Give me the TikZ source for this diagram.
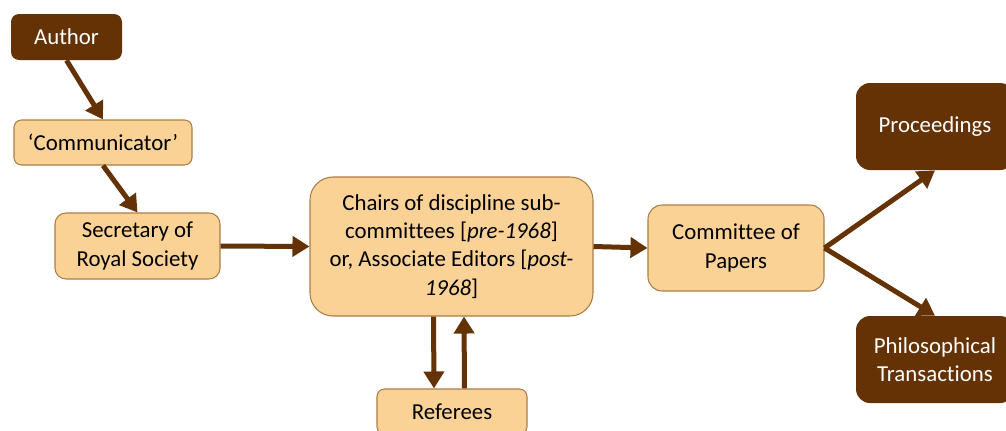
\documentclass[tikz,border=0pt]{standalone}
\usepackage{fontspec}
\setmainfont{Carlito}[Ligatures=NoCommon]
\usetikzlibrary{arrows.meta}
\definecolor{darkbrown}{RGB}{100,50,4}
\definecolor{peach}{RGB}{251,210,150}
\definecolor{peachline}{RGB}{170,125,70}

\begin{document}
\begin{tikzpicture}[>={Triangle[length=0.34cm,width=0.4cm]},
  lightbox/.style={draw=peachline, line width=0.6pt, fill=peach, text=black, align=center, inner sep=0pt},
  darkbox/.style={fill=darkbrown, text=white, align=center, inner sep=0pt, rounded corners=0.28cm},
  flow/.style={->, draw=darkbrown, line width=0.1cm}]
\fontsize{13}{16}\selectfont
\useasboundingbox (0,0) rectangle (20.12,-8.6);

% Draw the boxes
\node[darkbox, minimum width=2.22cm, minimum height=0.92cm, rounded corners=0.16cm] (author) at (1.33,-0.74) {Author};
\node[lightbox, minimum width=3.56cm, minimum height=0.90cm, rounded corners=0.15cm] (comm) at (2.06,-2.85) {`Communicator'};
\node[lightbox, minimum width=3.30cm, minimum height=1.32cm, rounded corners=0.22cm] (sec) at (2.75,-4.92) {Secretary of\\ Royal Society};
\node[lightbox, minimum width=5.66cm, minimum height=2.78cm, rounded corners=0.46cm] (chairs) at (9.03,-4.93)
  {Chairs of discipline sub-\\ committees [\textit{pre-1968}]\\ or, Associate Editors [\textit{post-}\\ \textit{1968}]};
\node[lightbox, minimum width=3.00cm, minimum height=0.90cm, rounded corners=0.15cm] (ref) at (9.04,-8.23) {Referees};
\node[lightbox, minimum width=3.52cm, minimum height=1.72cm, rounded corners=0.28cm] (papers) at (14.72,-4.96) {Committee of\\ Papers};
\node[darkbox, minimum width=3.16cm, minimum height=1.74cm] (procs) at (18.70,-2.53) {Proceedings};
\node[darkbox, minimum width=3.16cm, minimum height=1.74cm] (trans) at (18.70,-7.19) {Philosophical\\ Transactions};

% draw the arrows:
\draw[flow] (author.south) -- (comm.north);
\draw[flow] (comm.south) -- (sec.north);
\draw[flow] (sec.east) -- (chairs.west);
\draw[flow] (chairs.east) -- (papers.west);
\draw[flow] ([xshift=-0.36cm]chairs.south) -- ([xshift=-0.36cm]ref.north);
\draw[flow] ([xshift=0.25cm]ref.north) -- ([xshift=0.25cm]chairs.south);
\draw[flow] (papers.east) -- (procs.south);
\draw[flow] (papers.east) -- (trans.north);
\end{tikzpicture}
\end{document}
